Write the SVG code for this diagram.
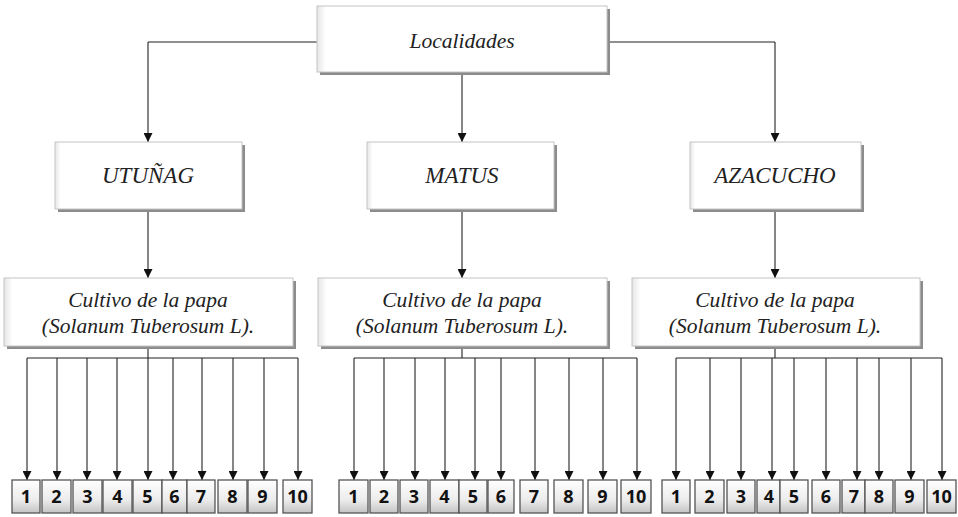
<svg xmlns="http://www.w3.org/2000/svg" width="958" height="517" viewBox="0 0 958 517">
<defs>
<marker id="arr" viewBox="0 0 10 10" refX="10" refY="5" markerWidth="9" markerHeight="9" markerUnits="userSpaceOnUse" orient="auto">
<path d="M0,0 L10,5 L0,10 z" fill="#111"/>
</marker>
<linearGradient id="btn" x1="0" y1="0" x2="0" y2="1">
<stop offset="0" stop-color="#ffffff"/>
<stop offset="0.6" stop-color="#ececec"/>
<stop offset="1" stop-color="#c4c4c4"/>
</linearGradient>
<linearGradient id="boxg" x1="0" y1="0" x2="1" y2="0">
<stop offset="0" stop-color="#e6e6e6"/>
<stop offset="0.03" stop-color="#ffffff"/>
<stop offset="1" stop-color="#ffffff"/>
</linearGradient>
</defs>
<style>
.shadow{fill:#8c8c8c}
.box{fill:url(#boxg);stroke:#c4c4c4;stroke-width:1}
.lbl{font-family:'Liberation Serif',serif;font-style:italic;font-size:21.5px;fill:#222;text-anchor:middle}
.up{font-size:23px}
.sm{fill:url(#btn);stroke:#555;stroke-width:1.3}
.num{font-family:'Open Sans','Liberation Sans',sans-serif;font-weight:bold;font-size:18px;fill:#111;text-anchor:middle}
.ln{fill:none;stroke:#222;stroke-width:1.1}
</style>
<rect width="958" height="517" fill="#ffffff"/>

<g id="connectors" class="ln">
<path d="M148,42 H317 M607,42 H775"/>
<path d="M148,42 V142" marker-end="url(#arr)"/>
<path d="M462,72 V142" marker-end="url(#arr)"/>
<path d="M775,42 V142" marker-end="url(#arr)"/>
<path d="M148,209 V278" marker-end="url(#arr)"/>
<path d="M462,209 V278" marker-end="url(#arr)"/>
<path d="M775,209 V278" marker-end="url(#arr)"/>
<path d="M148,346 V358 M27,358 H298"/>
<path d="M462,346 V358 M354,358 H637"/>
<path d="M775,346 V358 M676,358 H942"/>
<g marker-end="url(#arr)">
<path d="M27,358 V480"/><path d="M57,358 V480"/><path d="M87,358 V480"/><path d="M117,358 V480"/><path d="M148,358 V480"/><path d="M173,358 V480"/><path d="M202,358 V480"/><path d="M233,358 V480"/><path d="M264,358 V480"/><path d="M298,358 V480"/>
<path d="M354,358 V480"/><path d="M384,358 V480"/><path d="M415,358 V480"/><path d="M445,358 V480"/><path d="M475,358 V480"/><path d="M501,358 V480"/><path d="M535,358 V480"/><path d="M569,358 V480"/><path d="M603,358 V480"/><path d="M637,358 V480"/>
<path d="M676,358 V480"/><path d="M710,358 V480"/><path d="M741,358 V480"/><path d="M772,358 V480"/><path d="M794,358 V480"/><path d="M826,358 V480"/><path d="M857,358 V480"/><path d="M879,358 V480"/><path d="M911,358 V480"/><path d="M942,358 V480"/>
</g>
</g>

<g id="localidades">
<rect class="shadow" x="320" y="9" width="290" height="66"/>
<rect class="box" x="317" y="6" width="290" height="66"/>
<text class="lbl" x="462" y="48">Localidades</text>
</g>

<g id="utunag">
<rect class="shadow" x="58" y="145" width="187" height="67"/>
<rect class="box" x="55" y="142" width="187" height="67"/>
<text class="lbl up" x="148" y="183">UTUÑAG</text>
</g>
<g id="matus">
<rect class="shadow" x="370" y="145" width="187" height="67"/>
<rect class="box" x="367" y="142" width="187" height="67"/>
<text class="lbl up" x="462" y="183">MATUS</text>
</g>
<g id="azacucho">
<rect class="shadow" x="693" y="145" width="171" height="67"/>
<rect class="box" x="690" y="142" width="171" height="67"/>
<text class="lbl up" x="775" y="183">AZACUCHO</text>
</g>

<g id="cultivo1">
<rect class="shadow" x="7" y="281" width="289" height="68"/>
<rect class="box" x="4" y="278" width="289" height="68"/>
<text class="lbl" x="148" y="307">Cultivo de la papa</text>
<text class="lbl" x="148" y="333">(Solanum Tuberosum L).</text>
</g>
<g id="cultivo2">
<rect class="shadow" x="321" y="281" width="289" height="68"/>
<rect class="box" x="318" y="278" width="289" height="68"/>
<text class="lbl" x="462" y="307">Cultivo de la papa</text>
<text class="lbl" x="462" y="333">(Solanum Tuberosum L).</text>
</g>
<g id="cultivo3">
<rect class="shadow" x="635" y="281" width="288" height="68"/>
<rect class="box" x="632" y="278" width="288" height="68"/>
<text class="lbl" x="775" y="307">Cultivo de la papa</text>
<text class="lbl" x="775" y="333">(Solanum Tuberosum L).</text>
</g>

<g id="u1"><rect class="sm" x="12" y="480" width="28" height="33"/><text class="num" x="26" y="503">1</text></g>
<g id="u2"><rect class="sm" x="42" y="480" width="29" height="33"/><text class="num" x="56.5" y="503">2</text></g>
<g id="u3"><rect class="sm" x="73" y="480" width="29" height="33"/><text class="num" x="87.5" y="503">3</text></g>
<g id="u4"><rect class="sm" x="103" y="480" width="29" height="33"/><text class="num" x="117.5" y="503">4</text></g>
<g id="u5"><rect class="sm" x="133" y="480" width="29" height="33"/><text class="num" x="147.5" y="503">5</text></g>
<g id="u6"><rect class="sm" x="162" y="480" width="25" height="33"/><text class="num" x="174.5" y="503">6</text></g>
<g id="u7"><rect class="sm" x="187" y="480" width="28" height="33"/><text class="num" x="201" y="503">7</text></g>
<g id="u8"><rect class="sm" x="218" y="480" width="29" height="33"/><text class="num" x="232.5" y="503">8</text></g>
<g id="u9"><rect class="sm" x="248" y="480" width="29" height="33"/><text class="num" x="262.5" y="503">9</text></g>
<g id="u10"><rect class="sm" x="283" y="480" width="29" height="33"/><text class="num" x="297.5" y="503">10</text></g>

<g id="m1"><rect class="sm" x="339" y="480" width="29" height="33"/><text class="num" x="353.5" y="503">1</text></g>
<g id="m2"><rect class="sm" x="370" y="480" width="28" height="33"/><text class="num" x="384" y="503">2</text></g>
<g id="m3"><rect class="sm" x="400" y="480" width="28" height="33"/><text class="num" x="414" y="503">3</text></g>
<g id="m4"><rect class="sm" x="430" y="480" width="29" height="33"/><text class="num" x="444.5" y="503">4</text></g>
<g id="m5"><rect class="sm" x="459" y="480" width="28" height="33"/><text class="num" x="473" y="503">5</text></g>
<g id="m6"><rect class="sm" x="488" y="480" width="26" height="33"/><text class="num" x="501" y="503">6</text></g>
<g id="m7"><rect class="sm" x="520" y="480" width="28" height="33"/><text class="num" x="534" y="503">7</text></g>
<g id="m8"><rect class="sm" x="554" y="480" width="29" height="33"/><text class="num" x="568.5" y="503">8</text></g>
<g id="m9"><rect class="sm" x="588" y="480" width="29" height="33"/><text class="num" x="602.5" y="503">9</text></g>
<g id="m10"><rect class="sm" x="621" y="480" width="30" height="33"/><text class="num" x="636" y="503">10</text></g>

<g id="a1"><rect class="sm" x="662" y="480" width="28" height="33"/><text class="num" x="676" y="503">1</text></g>
<g id="a2"><rect class="sm" x="695" y="480" width="29" height="33"/><text class="num" x="709.5" y="503">2</text></g>
<g id="a3"><rect class="sm" x="727" y="480" width="28" height="33"/><text class="num" x="741" y="503">3</text></g>
<g id="a4"><rect class="sm" x="757" y="480" width="23" height="33"/><text class="num" x="769" y="503">4</text></g>
<g id="a5"><rect class="sm" x="780" y="480" width="28" height="33"/><text class="num" x="794" y="503">5</text></g>
<g id="a6"><rect class="sm" x="812" y="480" width="28" height="33"/><text class="num" x="826" y="503">6</text></g>
<g id="a7"><rect class="sm" x="842" y="480" width="23" height="33"/><text class="num" x="854" y="503">7</text></g>
<g id="a8"><rect class="sm" x="865" y="480" width="28" height="33"/><text class="num" x="879" y="503">8</text></g>
<g id="a9"><rect class="sm" x="895" y="480" width="29" height="33"/><text class="num" x="909.5" y="503">9</text></g>
<g id="a10"><rect class="sm" x="927" y="480" width="29" height="33"/><text class="num" x="941.5" y="503">10</text></g>
</svg>
